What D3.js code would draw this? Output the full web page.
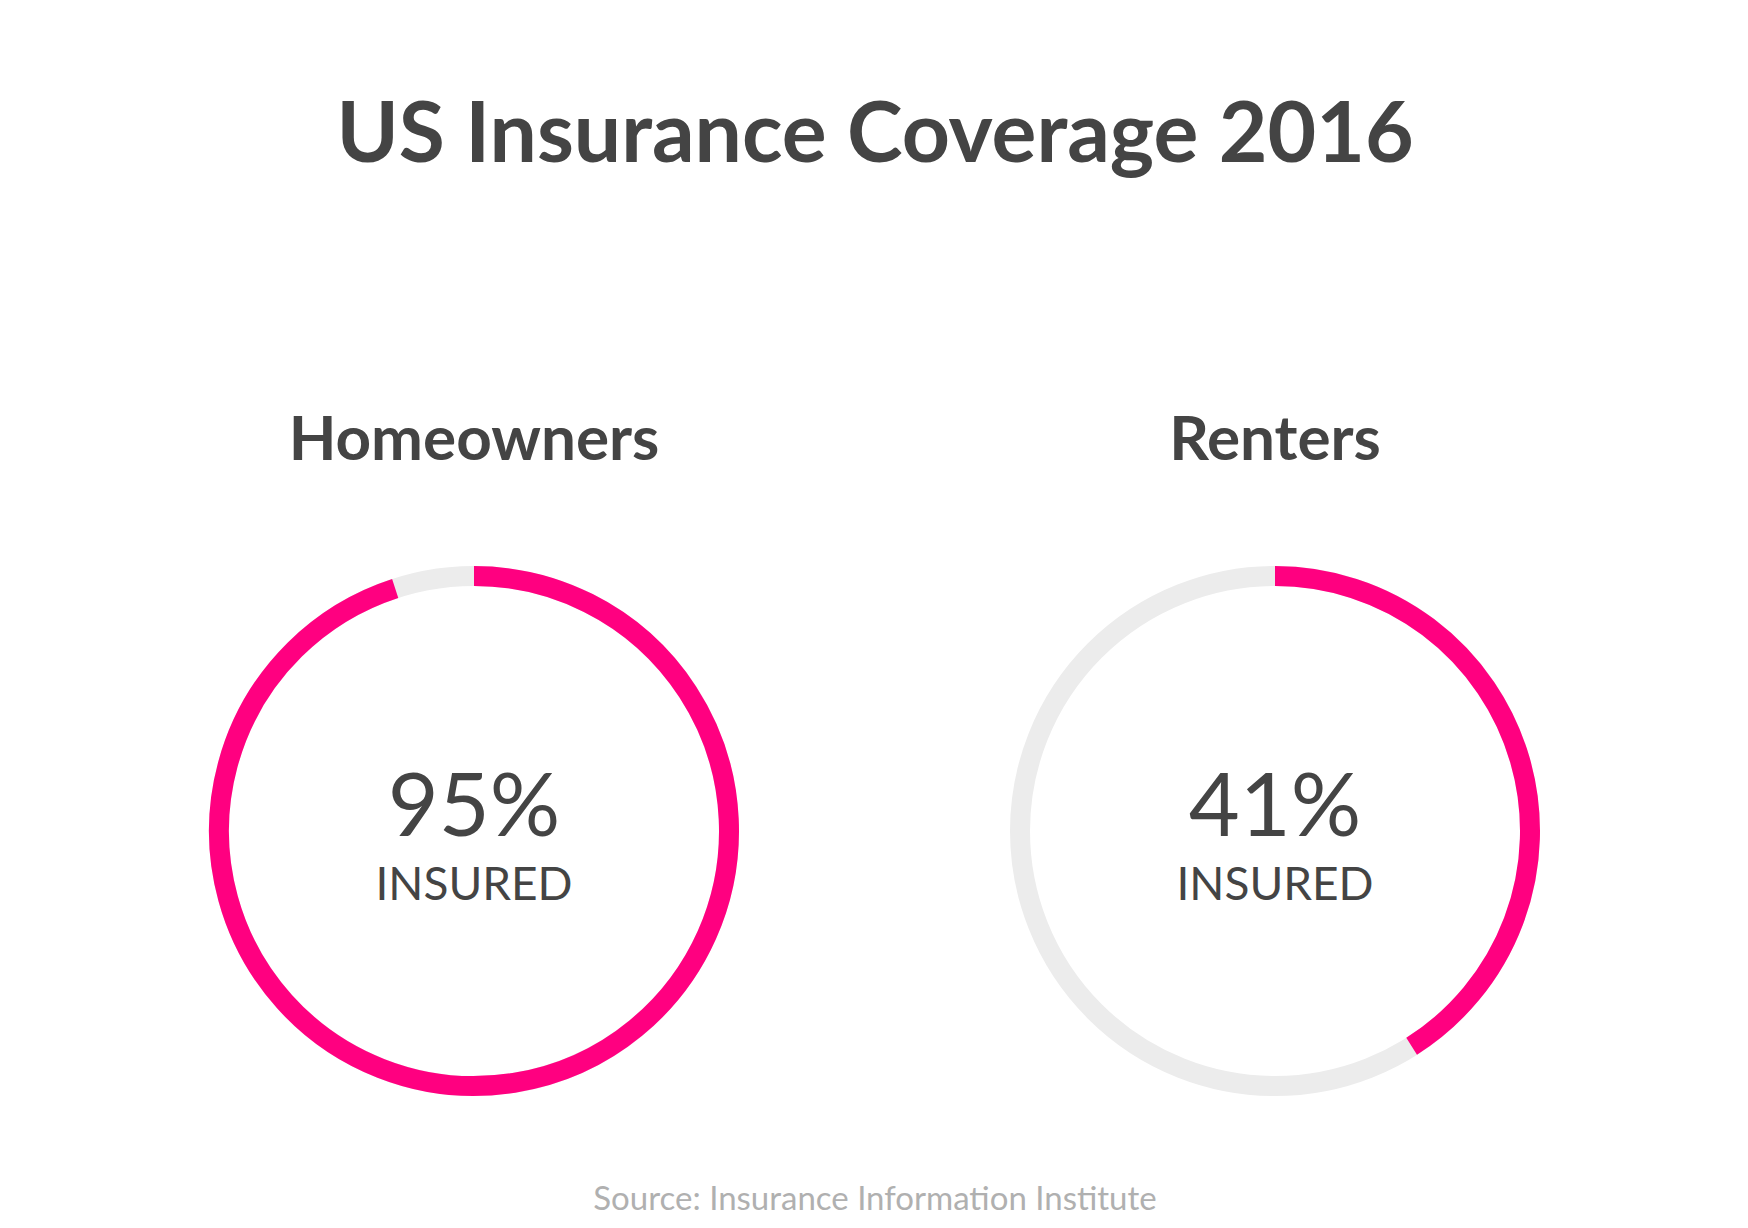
<!DOCTYPE html>
<html><head><meta charset="utf-8">
<script src="https://cdn.jsdelivr.net/npm/d3@7"></script>
<style>body{margin:0;background:#fff}</style></head>
<body><svg id="c" width="1748" height="1228"></svg>
<script>
const categories = ["Homeowners", "Renters"];
const values = [95, 41];
const subLabel = "INSURED";
const title = "US Insurance Coverage 2016";
const source = "Source: Insurance Information Institute";

const svg = d3.select("#c");
const W = 1748, cx = d3.scalePoint().domain(categories).range([474, 1275]);
const cy = 831, r = 255, sw = 20;
const ang = d3.scaleLinear().domain([0, 100]).range([0, 2 * Math.PI]);
const font = "Lato, 'Open Sans', sans-serif";

svg.append("text").attr("x", 875).attr("y", 162).attr("text-anchor", "middle")
  .attr("font-family", font).attr("font-weight", 700).attr("font-size", 84).attr("fill", "#444").text(title);

const g = svg.selectAll("g.d").data(categories).join("g")
  .attr("transform", d => `translate(${cx(d)},${cy})`);
g.append("circle").attr("r", r).attr("fill", "none").attr("stroke", "#ececec").attr("stroke-width", sw);
const arc = d3.arc().innerRadius(r).outerRadius(r).startAngle(0);
g.append("path").attr("d", (d, i) => arc({endAngle: ang(values[i])}))
  .attr("fill", "none").attr("stroke", "#ff0080").attr("stroke-width", sw).attr("stroke-linecap", "round");
g.append("text").attr("y", -371).attr("text-anchor", "middle").attr("font-family", font)
  .attr("font-weight", 700).attr("font-size", 62).attr("fill", "#444").text(d => d);
g.append("text").attr("y", 5).attr("text-anchor", "middle").attr("font-family", font)
  .attr("font-size", 88).attr("fill", "#444").text((d, i) => values[i] + "%");
g.append("text").attr("y", 69).attr("text-anchor", "middle").attr("font-family", font)
  .attr("font-size", 46).attr("fill", "#444").text(subLabel);

svg.append("text").attr("x", 875).attr("y", 1210).attr("text-anchor", "middle")
  .attr("font-family", font).attr("font-size", 33).attr("fill", "#b0b0b0").text(source);
</script></body></html>
